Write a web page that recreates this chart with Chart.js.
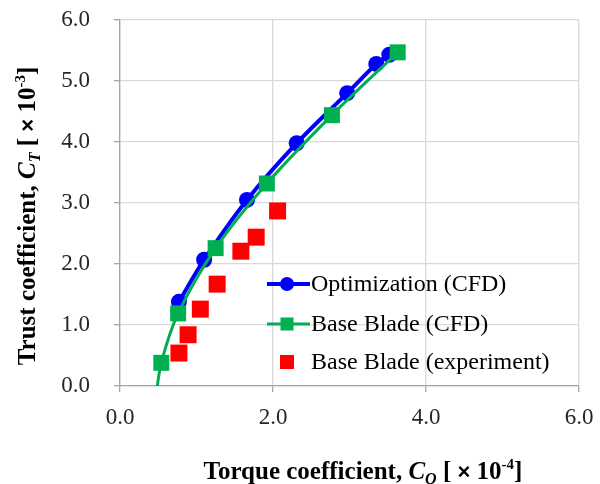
<!DOCTYPE html>
<html>
<head>
<meta charset="utf-8">
<script src="https://cdn.jsdelivr.net/npm/chart.js@4.4.0/dist/chart.umd.min.js"></script>
<style>
  html, body { margin: 0; padding: 0; background: #fff; }
  #wrap { width: 600px; height: 484px; }
</style>
</head>
<body>
<div id="wrap"><canvas id="chart" width="600" height="484"></canvas></div>
<script>
// ========== Data ==========
const optX = [0.77, 1.10, 1.66, 2.31, 2.97, 3.35, 3.52];
const optY = [1.38, 2.07, 3.05, 3.98, 4.80, 5.28, 5.43];

// first point sits below the axis (line runs off the plot)
const baseX = [0.46, 0.54, 0.76, 1.25, 1.92, 2.77, 3.63];
const baseY = [-0.25, 0.38, 1.19, 2.26, 3.32, 4.44, 5.47];

const expX = [0.77, 0.89, 1.05, 1.27, 1.58, 1.78, 2.06];
const expY = [0.54, 0.84, 1.26, 1.67, 2.21, 2.44, 2.87];

const seriesNames = ["Optimization (CFD)", "Base Blade (CFD)", "Base Blade (experiment)"];
const axisTicks = [0, 1, 2, 3, 4, 5, 6];

const BLUE = "#0000ff";
const GREEN = "#00b050";
const RED = "#ff0000";
const SERIF = "'Liberation Serif', 'Times New Roman', serif";

const toPoints = (xs, ys) => xs.map((x, i) => ({ x: x, y: ys[i] }));

// ========== Titles + legend (drawn by hand, mixed fonts) ==========
function drawRich(ctx, parts, x, y) {
  let total = 0;
  parts.forEach((p) => {
    ctx.font = p.font;
    p.w = ctx.measureText(p.t).width;
    total += p.w;
  });
  let cx = x - total / 2;
  parts.forEach((p) => {
    ctx.font = p.font;
    ctx.fillText(p.t, cx, y + (p.dy || 0));
    cx += p.w;
  });
}

function titleParts(name, sub, exp) {
  return [
    { t: name + " coefficient, ", font: "bold 25px " + SERIF },
    { t: "C", font: "bold italic 25px " + SERIF },
    { t: sub, font: "bold italic 16px " + SERIF, dy: 5 },
    { t: " [ ", font: "bold 25px " + SERIF },
    { t: "×", font: "bold 22px 'Liberation Sans', Arial, sans-serif" },
    { t: " 10", font: "bold 25px " + SERIF },
    { t: exp, font: "bold 15px " + SERIF, dy: -10 },
    { t: "]", font: "bold 25px " + SERIF },
  ];
}

const decorPlugin = {
  id: "decor",
  afterDraw(chart) {
    const ctx = chart.ctx;
    ctx.save();
    ctx.fillStyle = "#000";
    ctx.textBaseline = "alphabetic";

    // x title
    drawRich(ctx, titleParts("Torque", "Q", "-4"), 363, 479);

    // y title
    ctx.save();
    ctx.translate(35, 216);
    ctx.rotate(-Math.PI / 2);
    drawRich(ctx, titleParts("Trust", "T", "-3"), 0, 0);
    ctx.restore();

    // legend
    const rows = [284, 324, 362];
    const lx0 = 267, lx1 = 310, mx = 287, tx = 311;

    // blue
    ctx.strokeStyle = BLUE;
    ctx.lineWidth = 4;
    ctx.beginPath();
    ctx.moveTo(lx0, rows[0]);
    ctx.lineTo(lx1, rows[0]);
    ctx.stroke();
    ctx.fillStyle = BLUE;
    ctx.beginPath();
    ctx.arc(mx, rows[0], 7, 0, Math.PI * 2);
    ctx.fill();

    // green
    ctx.strokeStyle = GREEN;
    ctx.lineWidth = 3;
    ctx.beginPath();
    ctx.moveTo(lx0, rows[1]);
    ctx.lineTo(lx1, rows[1]);
    ctx.stroke();
    ctx.fillStyle = GREEN;
    ctx.fillRect(mx - 6.5, rows[1] - 6.5, 13, 13);

    // red
    ctx.fillStyle = RED;
    ctx.fillRect(mx - 7, rows[2] - 7, 14, 14);

    ctx.fillStyle = "#000";
    ctx.font = "24px " + SERIF;
    ctx.textBaseline = "middle";
    seriesNames.forEach((name, i) => {
      ctx.fillText(name, tx, rows[i] + 1);
    });

    ctx.restore();
  },
};

// fixed scale box, no extra label overflow padding
function fixBox(size) {
  return (s) => {
    if (s.isHorizontal()) s.height = size;
    else s.width = size;
    s.paddingTop = 0;
    s.paddingBottom = 0;
    s.paddingLeft = 0;
    s.paddingRight = 0;
  };
}

// ========== Chart ==========
const ctx = document.getElementById("chart").getContext("2d");
new Chart(ctx, {
  type: "scatter",
  data: {
    datasets: [
      {
        label: seriesNames[0],
        data: toPoints(optX, optY),
        showLine: true,
        borderColor: BLUE,
        backgroundColor: BLUE,
        borderWidth: 4,
        pointStyle: "circle",
        pointRadius: 8,
        pointBorderWidth: 0,
        tension: 0.3,
        order: 2,
      },
      {
        label: seriesNames[1],
        data: toPoints(baseX, baseY),
        showLine: true,
        borderColor: GREEN,
        backgroundColor: GREEN,
        borderWidth: 3,
        pointStyle: "rect",
        pointRadius: baseY.map((y) => (y < 0 ? 0 : 11.3)),
        pointBorderWidth: 0,
        tension: 0.3,
        order: 1,
      },
      {
        label: seriesNames[2],
        data: toPoints(expX, expY),
        showLine: false,
        borderColor: RED,
        backgroundColor: RED,
        pointStyle: "rect",
        pointRadius: 12,
        pointBorderWidth: 0,
        order: 0,
      },
    ],
  },
  options: {
    responsive: false,
    animation: false,
    layout: { padding: { left: 0, top: 20, right: 21, bottom: 0 } },
    plugins: {
      legend: { display: false },
      tooltip: { enabled: false },
    },
    scales: {
      x: {
        type: "linear",
        min: 0,
        max: 6,
        afterBuildTicks: (s) => { s.ticks = axisTicks.filter((v) => v % 2 === 0).map((v) => ({ value: v })); },
        afterFit: fixBox(98),
        border: { color: "#a6a6a6", width: 1.3 },
        grid: { color: "#d9d9d9", lineWidth: 1.3, tickLength: 6, tickColor: "#a6a6a6" },
        ticks: {
          color: "#262626",
          padding: 12,
          font: { family: SERIF, size: 23 },
          callback: (v) => v.toFixed(1),
        },
      },
      y: {
        type: "linear",
        min: 0,
        max: 6,
        afterBuildTicks: (s) => { s.ticks = axisTicks.map((v) => ({ value: v })); },
        afterFit: fixBox(120),
        border: { color: "#a6a6a6", width: 1.3 },
        grid: { color: "#d9d9d9", lineWidth: 1.3, tickLength: 6, tickColor: "#a6a6a6" },
        ticks: {
          color: "#262626",
          padding: 24,
          font: { family: SERIF, size: 23 },
          callback: (v) => v.toFixed(1),
        },
      },
    },
  },
  plugins: [decorPlugin],
});
</script>
</body>
</html>
